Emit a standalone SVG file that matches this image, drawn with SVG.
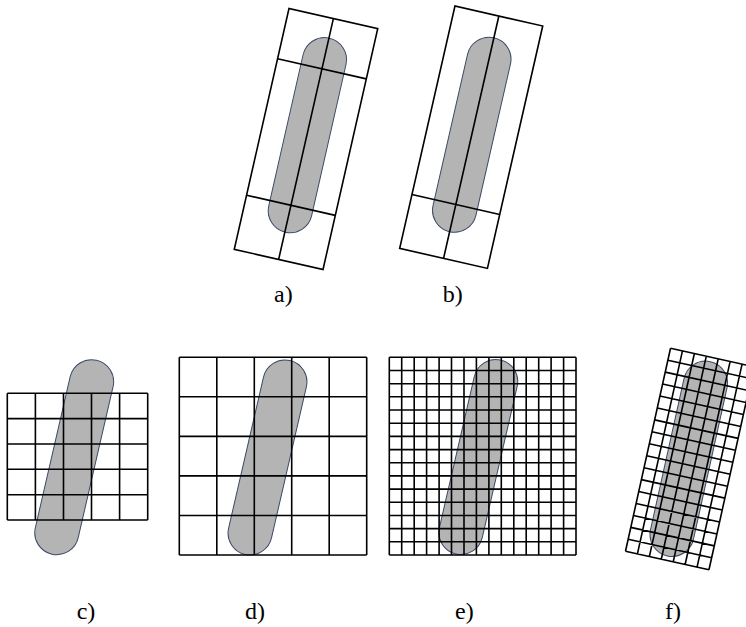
<svg xmlns="http://www.w3.org/2000/svg" width="746" height="627" viewBox="0 0 746 627">
<style>
.cap{fill:#b4b4b4;stroke:#3c4a66;stroke-width:1}
.ln{fill:none;stroke:#000;stroke-width:1.6}
.lbl{font-family:"Liberation Serif","Times New Roman",serif;font-size:24px;fill:#000}
</style>
<rect width="746" height="627" fill="#fff"/>
<g id="panel-a" transform="translate(306,139) rotate(12.8)">
  <rect class="cap" x="-21.5" y="-103.5" width="44" height="199" rx="22"/>
  <rect class="ln" x="-45.5" y="-123.5" width="91" height="247"/>
  <path class="ln" d="M0,-123.5V123.5M-45.5,-72H45.5M-45.5,68H45.5"/>
</g>
<g id="panel-b" transform="translate(471.2,137.2) rotate(12.85)">
  <rect class="cap" x="-22" y="-102" width="44" height="199" rx="22"/>
  <rect class="ln" x="-45" y="-124.3" width="90" height="248.6"/>
  <path class="ln" d="M0,-124.3V124.3M-45,69H45"/>
</g>
<g id="panel-c">
  <rect class="cap" x="52.2" y="357.7" width="44" height="199" rx="22" transform="rotate(13 74.2 457.2)"/>
  <path class="ln" d="M7.3,393.3V520M35.4,393.3V520M63.5,393.3V520M91.5,393.3V520M119.6,393.3V520M147.7,393.3V520M7.3,393.3H147.7M7.3,418.6H147.7M7.3,444H147.7M7.3,469.3H147.7M7.3,494.7H147.7M7.3,520H147.7"/>
</g>
<g id="panel-d">
  <rect class="cap" x="245.5" y="358" width="44" height="199" rx="22" transform="rotate(13 267.5 457.5)"/>
  <path class="ln" d="M179.3,357.3V555M216.8,357.3V555M254.3,357.3V555M291.7,357.3V555M329.2,357.3V555M366.7,357.3V555M179.3,357.3H366.7M179.3,396.8H366.7M179.3,436.4H366.7M179.3,475.9H366.7M179.3,515.5H366.7M179.3,555H366.7"/>
</g>
<g id="panel-e">
  <rect class="cap" x="456.3" y="357.5" width="44" height="199" rx="22" transform="rotate(13 478.3 457)"/>
  <path class="ln" d="M389.3,357.3V555M401.7,357.3V555M414.2,357.3V555M426.6,357.3V555M439.1,357.3V555M451.5,357.3V555M464,357.3V555M476.4,357.3V555M488.9,357.3V555M501.3,357.3V555M513.8,357.3V555M526.2,357.3V555M538.7,357.3V555M551.1,357.3V555M563.6,357.3V555M576,357.3V555M389.3,357.3H576M389.3,370.5H576M389.3,383.7H576M389.3,396.8H576M389.3,410H576M389.3,423.2H576M389.3,436.4H576M389.3,449.6H576M389.3,462.7H576M389.3,475.9H576M389.3,489.1H576M389.3,502.3H576M389.3,515.5H576M389.3,528.6H576M389.3,541.8H576M389.3,555H576"/>
</g>
<g id="panel-f" transform="translate(689.75,459) rotate(12.5)">
  <rect class="cap" x="-23" y="-99.5" width="44" height="199" rx="22"/>
  <path class="ln" d="M-42.75,-104V104M-30.54,-104V104M-18.32,-104V104M-6.11,-104V104M6.11,-104V104M18.32,-104V104M30.54,-104V104M42.75,-104V104M-42.75,-104H42.75M-42.75,-91.76H42.75M-42.75,-79.53H42.75M-42.75,-67.29H42.75M-42.75,-55.06H42.75M-42.75,-42.82H42.75M-42.75,-30.59H42.75M-42.75,-18.35H42.75M-42.75,-6.12H42.75M-42.75,6.12H42.75M-42.75,18.35H42.75M-42.75,30.59H42.75M-42.75,42.82H42.75M-42.75,55.06H42.75M-42.75,67.29H42.75M-42.75,79.53H42.75M-42.75,91.76H42.75M-42.75,104H42.75"/>
</g>
<g id="labels" class="lbl">
  <text x="274" y="302">a)</text>
  <text x="442.7" y="302">b)</text>
  <text x="76.7" y="619">c)</text>
  <text x="245" y="619">d)</text>
  <text x="455" y="619">e)</text>
  <text x="665" y="619">f)</text>
</g>
</svg>
